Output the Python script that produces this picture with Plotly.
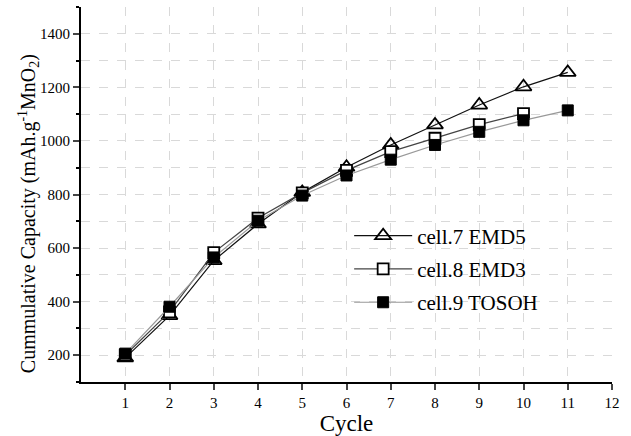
import plotly.graph_objects as go

cycles7 = [1, 2, 3, 4, 5, 6, 7, 8, 9, 10, 11]
cap7 = [190, 348, 553, 690, 808, 902, 985, 1060, 1134, 1202, 1256]
cycles8 = [1, 2, 3, 4, 5, 6, 7, 8, 9, 10]
cap8 = [200, 362, 583, 712, 806, 890, 960, 1010, 1061, 1102]
cycles9 = [1, 2, 3, 4, 5, 6, 7, 8, 9, 10, 11]
cap9 = [206, 381, 565, 702, 796, 871, 930, 985, 1034, 1077, 1114]
names = ["cell.7 EMD5", "cell.8 EMD3", "cell.9 TOSOH"]
xticks = list(range(1, 13))
yticks = [200, 400, 600, 800, 1000, 1200, 1400]
y_title = "Cummulative Capacity (mAh.g<sup>-1</sup>MnO<sub>2</sub>)"

FONT = "Liberation Serif"

fig = go.Figure()
fig.add_trace(go.Scatter(x=cycles7, y=cap7, name=names[0], mode="lines+markers", legendgroup="a",
                         line=dict(color="#111111", width=1.2),
                         marker=dict(symbol="triangle-up-open", size=14, color="black",
                                     line=dict(width=1.8, color="black"))))
fig.add_trace(go.Scatter(x=cycles8, y=cap8, name=names[1], mode="lines+markers", legendgroup="b",
                         line=dict(color="#444444", width=1.2),
                         marker=dict(symbol="square", size=11, color="white",
                                     line=dict(width=1.8, color="black"))))
fig.add_trace(go.Scatter(x=cycles9, y=cap9, name=names[2], mode="lines+markers", legendgroup="c",
                         line=dict(color="#999999", width=1.2),
                         marker=dict(symbol="square", size=11, color="black",
                                     line=dict(width=1, color="black"))))

grid = dict(showgrid=True, gridcolor="#d9d9d9", griddash="dash", gridwidth=1)

fig.update_layout(
    width=631, height=436,
    margin=dict(l=81, r=19, t=7, b=54, autoexpand=False),
    paper_bgcolor="white", plot_bgcolor="white",
    font=dict(family=FONT, color="black", size=15),
    showlegend=True,
    legend=dict(x=0.505, y=0.444, xanchor="left", yanchor="top",
                bgcolor="rgba(0,0,0,0)", font=dict(size=21, family=FONT),
                tracegroupgap=3, itemwidth=58),
    xaxis=dict(range=[0, 12], tickvals=xticks, ticks="outside", ticklen=6, tickwidth=1.5,
               showline=True, linecolor="black", linewidth=2, zeroline=False, automargin=False,
               title=dict(text="Cycle", font=dict(size=23, family=FONT), standoff=0),
               tickfont=dict(size=15, family=FONT), **grid),
    yaxis=dict(range=[100, 1500], tickvals=yticks, ticks="outside", ticklen=6, tickwidth=1.5,
               showline=True, linecolor="black", linewidth=2, zeroline=False, automargin=False,
               minor=dict(dtick=100, tick0=100, ticks="outside", ticklen=3, tickcolor="black",
                          showgrid=True, gridcolor="#d9d9d9", griddash="dash"),
               tickfont=dict(size=15, family=FONT), **grid),
    xaxis2=dict(range=[0, 12], tickvals=xticks, overlaying="x", side="top", anchor="y",
                ticks="inside", ticklen=6, tickwidth=1.5, showticklabels=False, automargin=False,
                showline=True, linecolor="#444444", linewidth=2, showgrid=False, zeroline=False),
    yaxis2=dict(range=[100, 1500], tickvals=yticks, overlaying="y", side="right", anchor="x",
                ticks="inside", ticklen=6, tickwidth=1.5, tickcolor="#888888", automargin=False,
                showticklabels=False, showline=True, linecolor="#999999", linewidth=2,
                showgrid=False, zeroline=False),
    annotations=[dict(text=y_title, xref="paper", yref="paper", x=-0.098, y=0.45,
                      xanchor="center", yanchor="middle", textangle=-90, showarrow=False,
                      font=dict(size=20, family=FONT, color="black"))],
)

fig.write_html("out.html", config={"displayModeBar": False},
               post_script="document.body.style.margin='0';")
